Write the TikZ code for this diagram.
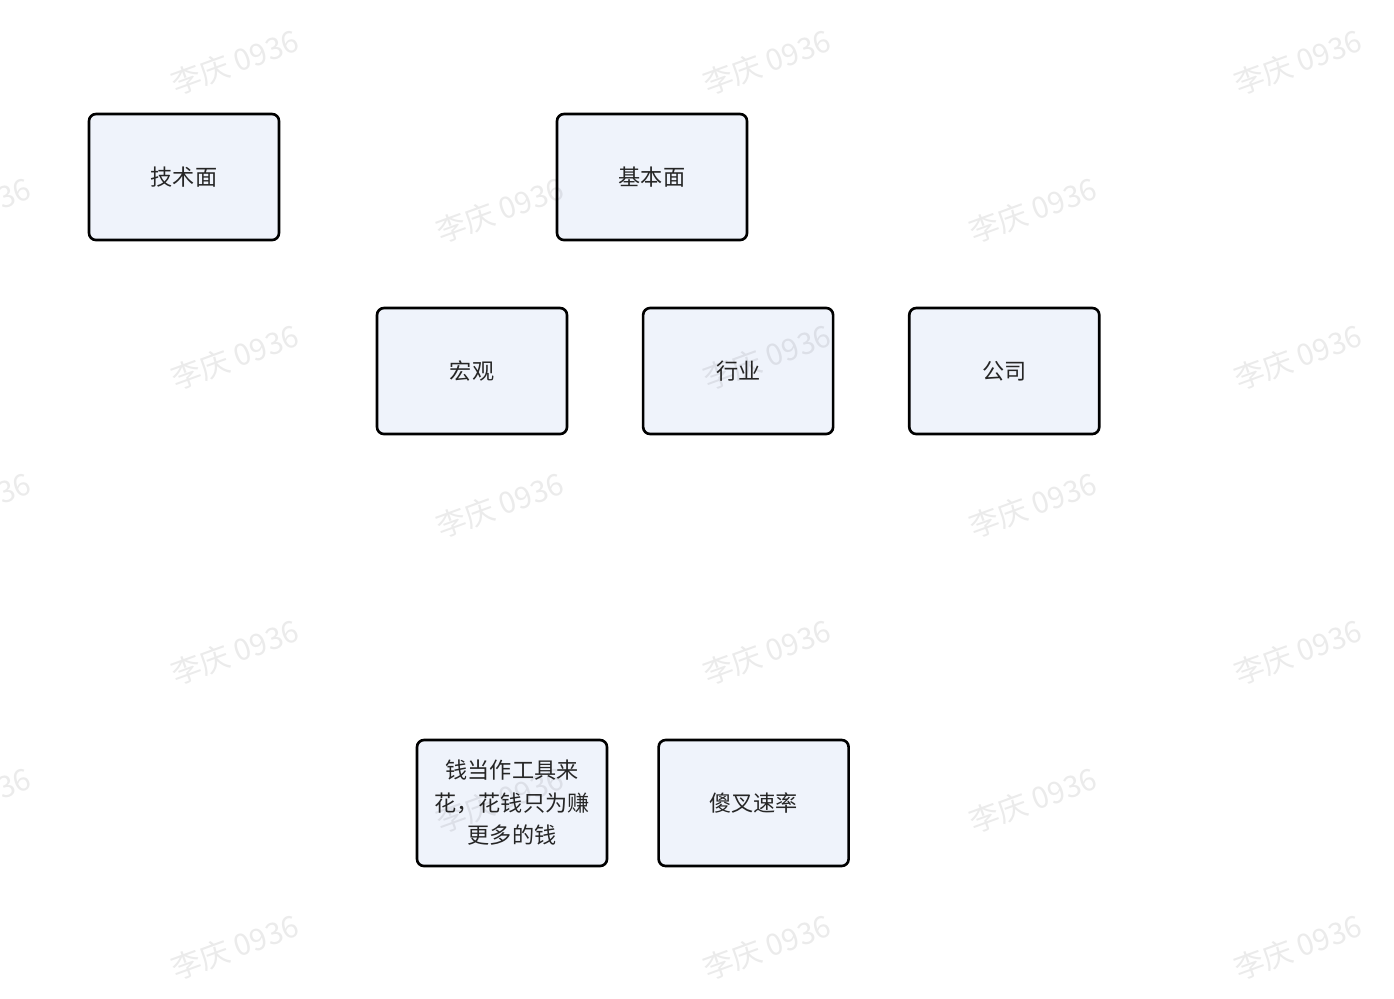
\documentclass[tikz,border=0pt]{standalone}
\usepackage{fontspec}
\setmainfont{Noto Sans CJK SC}
\usetikzlibrary{positioning}
\definecolor{boxfill}{RGB}{239,243,251}

\tikzset{
	topic/.style={draw, line width=1.5pt, rounded corners=0.14cm, fill=boxfill, text=black!85, minimum width=3.8cm, minimum height=2.52cm, align=center, font=\fontsize{12.6}{18.5}\selectfont, inner sep=2pt},
	wmark/.style={text=black, text opacity=0.08, rotate=20, font=\fontsize{17}{18}\selectfont}
}

\begin{document}
\begin{tikzpicture}
	\useasboundingbox (0,0) rectangle (27.88,-19.96);
	
	% Define nodes
	\node [topic] (technical) at (3.68,-3.54) {技术面};
	\node [topic] (fundamental) at (13.04,-3.54) {基本面};
	\node [topic] (macro) at (9.44,-7.42) {宏观};
	\node [topic, right=1.47cm of macro] (industry) {行业};
	\node [topic, right=1.47cm of industry] (company) {公司};
	\node [topic] (money) at (10.24,-16.06) {钱当作工具来\\花，花钱只为赚\\更多的钱};
	\node [topic, right=0.98cm of money] (rate) {傻叉速率};
	
	% Watermark
	\foreach \y in {1.24,7.14,13.04,18.94}
		\foreach \x in {4.7,15.34,25.96}
			\node [wmark] at (\x,-\y) {李庆 0936};
	\foreach \y in {4.2,10.1,16.0}
		\foreach \x in {-0.66,10.0,20.66}
			\node [wmark] at (\x,-\y) {李庆 0936};
\end{tikzpicture}
\end{document}
